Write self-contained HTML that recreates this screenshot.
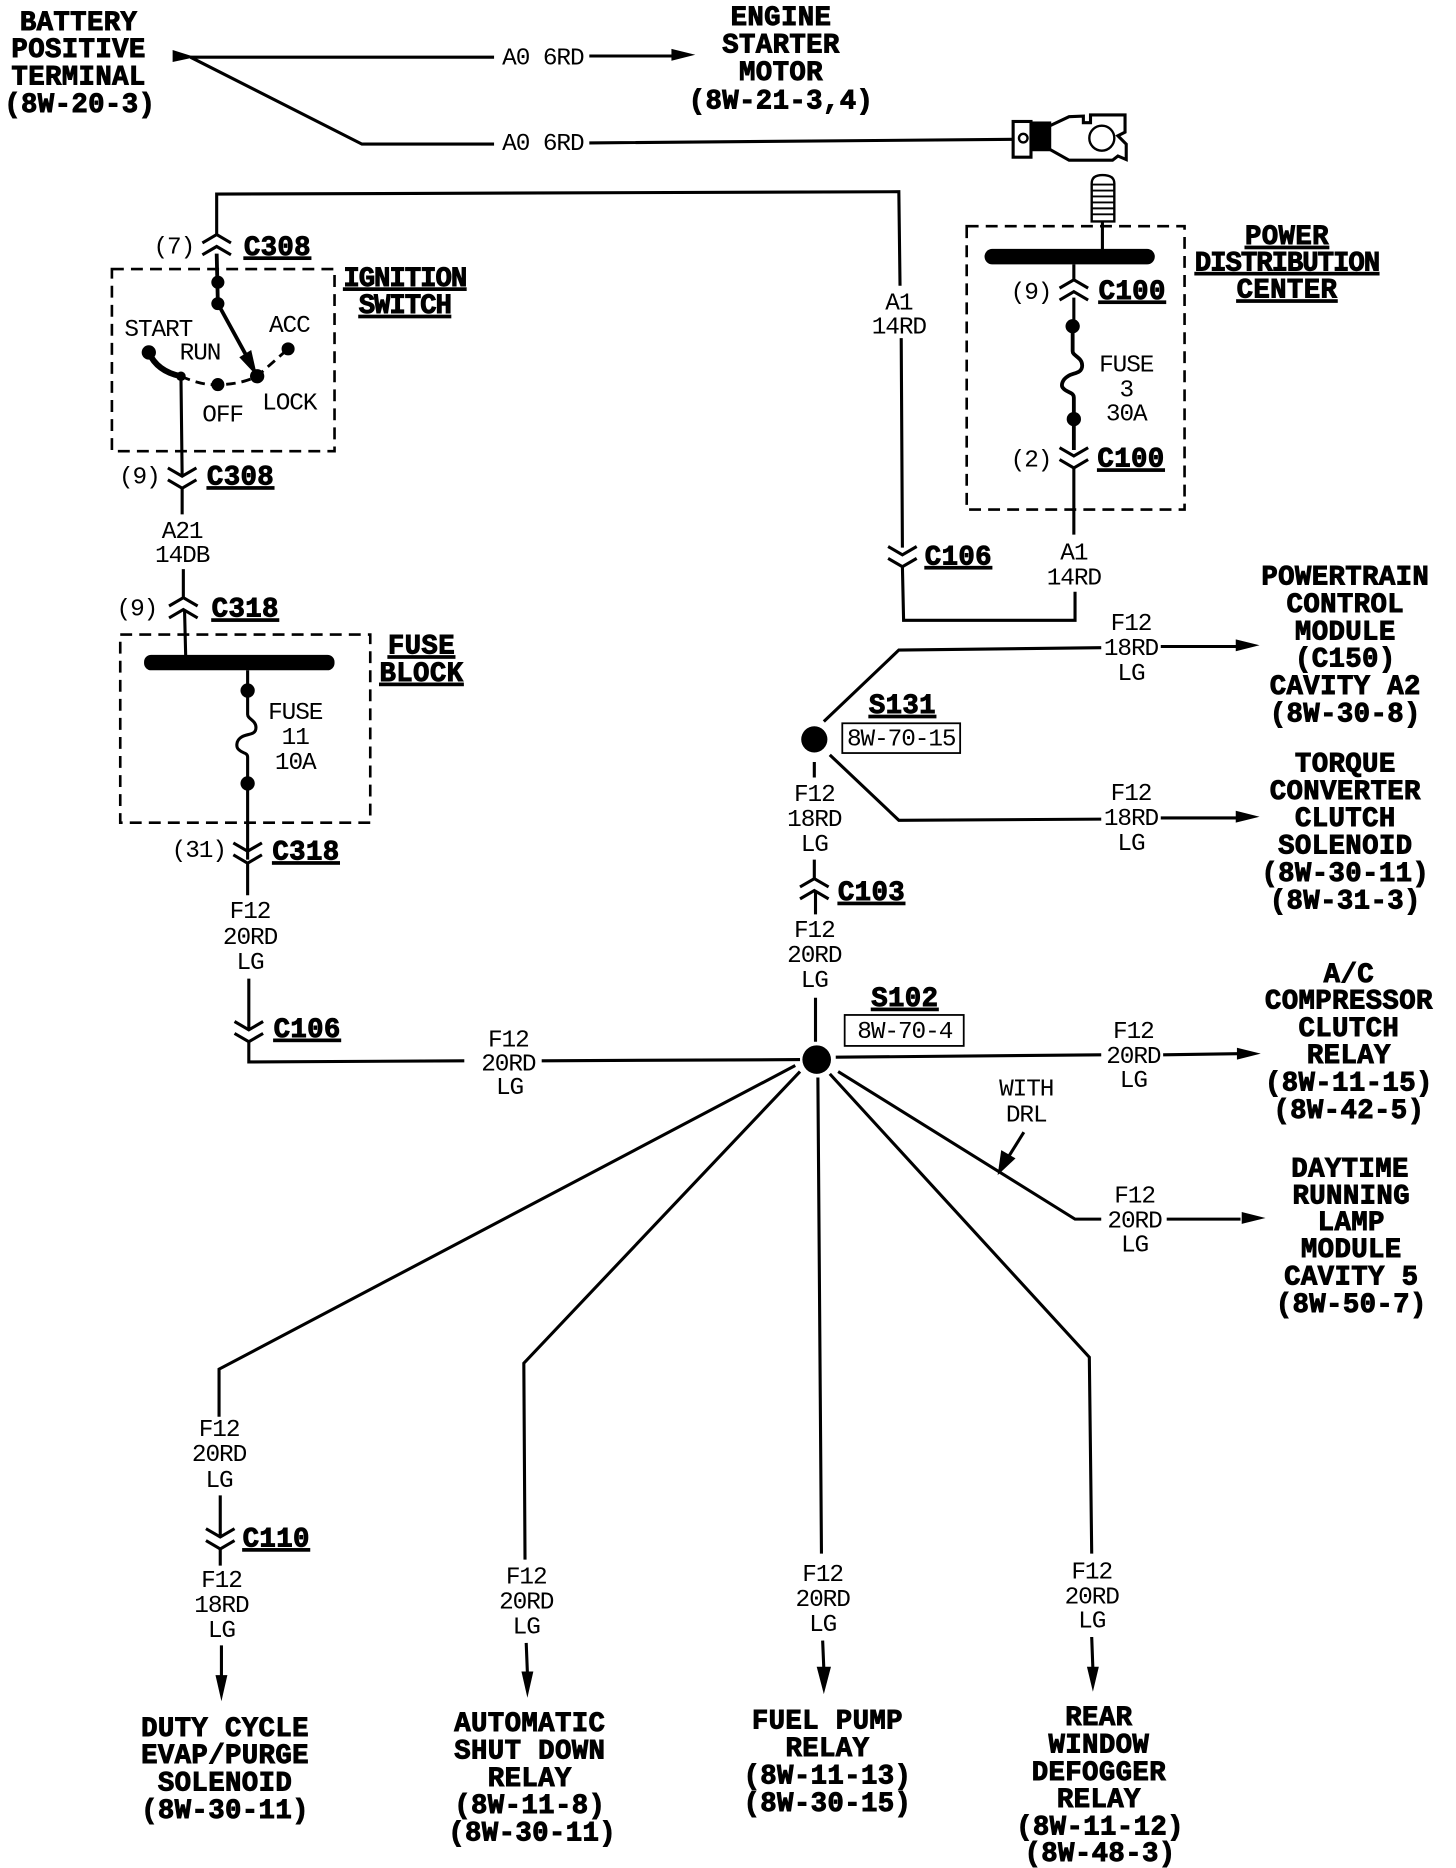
<!DOCTYPE html>
<html><head><meta charset="utf-8"><style>
html,body{margin:0;padding:0;background:#fff}
svg{display:block}
text{fill:#000;text-anchor:middle;font-family:"Liberation Mono",monospace}
.b{font-size:23px;font-weight:bold;stroke:#000;stroke-width:.8px;letter-spacing:.3px}
.n{letter-spacing:-.9px}
.u{text-decoration:underline}
.r{font-size:20.5px;letter-spacing:-.9px}
.w{fill:none;stroke:#000;stroke-width:2.6;stroke-linejoin:miter}
.t{fill:none;stroke:#000;stroke-width:3.2}
.d{fill:none;stroke:#000;stroke-width:2.2;stroke-dasharray:10 6}
</style></head><body>
<svg width="1456" height="1868" viewBox="0 0 1223 1569" xmlns="http://www.w3.org/2000/svg">
<defs>
<g id="dn" fill="none" stroke="#000" stroke-width="2.6"><polyline points="-12,-9 0,-2 12,-9"/><polyline points="-12,1 0,8 12,1"/></g>
<g id="up" fill="none" stroke="#000" stroke-width="2.6"><polyline points="-12,-1 0,-8 12,-1"/><polyline points="-12,9 0,2 12,9"/></g>
<polygon id="ar" points="0,0 -20,-5 -20,5" fill="#000"/>
</defs>

<!-- top wires -->
<polygon points="145,42 145,52 164,48" fill="#000"/>
<path class="w" d="M160,48 L415,48 M495,47 L566,47 M160,48 L304,121 L415,121 M495,120 L852,117"/>
<use href="#ar" x="584" y="46"/>

<!-- terminal -->
<path d="M881,106 L898,98 L910,97.5 L910,103 L916,103 L916,96.5 L945,96.5 L945,111 L939,114 L946,121 L946,134 L939,131 L934.5,134.5 L898,134.5 L881,125 Z" fill="#fff" stroke="#000" stroke-width="2.6"/>
<rect x="851" y="102" width="15" height="30" fill="#fff" stroke="#000" stroke-width="2.6"/>
<rect x="866" y="102" width="17" height="25" fill="#000"/>
<circle cx="859.5" cy="116" r="3.6" fill="#fff" stroke="#000" stroke-width="2"/>
<circle cx="925.5" cy="116" r="10.5" fill="#fff" stroke="#000" stroke-width="2"/>
<!-- stud -->
<path d="M917,186 L917,154 Q917,147 926,147 Q936,147 936,154 L936,186 Z" fill="#fff" stroke="#000" stroke-width="2"/>
<path d="M917,155 H936 M917,160 H936 M917,165 H936 M917,170 H936 M917,175 H936 M917,180 H936" stroke="#000" stroke-width="1.6"/>
<path class="w" d="M926,186 L926,210"/>

<!-- A1 long wire -->
<path class="w" d="M182,197 L182,163 L755,161 L756,240 M757,284 L758,460 M758,476 L759,521 L903,521 L903,497 M902,449 L902,392 M902,274 L902,250 M902,222 L902,235"/>
<use href="#up" x="182" y="205"/>
<path class="t" d="M182,213 L183,255"/>
<use href="#dn" x="758" y="468"/>
<use href="#up" x="902" y="243"/>
<use href="#dn" x="902" y="385"/>

<!-- PDC -->
<rect x="812" y="190" width="183" height="238" class="d"/>
<rect x="827" y="209" width="143" height="13" rx="6.5" fill="#000"/>
<circle cx="901" cy="274" r="6" fill="#000"/>
<circle cx="902" cy="352" r="6" fill="#000"/>
<path class="t" d="M901,274 L901,295 C901,299 909,300 909,307 C909,314 901,313 897,316 C892,319 891,324 893,326 C896,330 902,329 902,334 L902,352 L902,378"/>

<!-- Ignition switch -->
<rect x="94" y="226" width="187" height="153" class="d"/>
<circle cx="183" cy="237" r="5.5" fill="#000"/>
<circle cx="183" cy="255" r="5.5" fill="#000"/>
<circle cx="125" cy="296" r="6" fill="#000"/>
<circle cx="152" cy="316" r="4" fill="#000"/>
<circle cx="183" cy="323" r="5.5" fill="#000"/>
<circle cx="216" cy="316" r="6" fill="#000"/>
<circle cx="242" cy="293" r="5.5" fill="#000"/>
<path d="M125,296 Q132,312 152,316" fill="none" stroke="#000" stroke-width="5"/>
<path d="M152,316 Q170,324 183,323 Q202,323 216,316 L242,293" fill="none" stroke="#000" stroke-width="2.4" stroke-dasharray="8 5"/>
<path class="t" d="M183,255 L212,308"/>
<polygon points="216,316 201,300 211,294" fill="#000"/>
<path class="w" d="M152,316 L153,400 M153,410 L153,432 M154,478 L154,502 M155,512 L156,552"/>
<use href="#dn" x="153" y="402"/>
<use href="#up" x="154" y="510"/>

<!-- Fuse block -->
<rect x="101" y="533" width="210" height="158" class="d"/>
<rect x="121" y="550" width="160" height="13" rx="6" fill="#000"/>
<circle cx="208" cy="580" r="6" fill="#000"/>
<circle cx="208" cy="658" r="6" fill="#000"/>
<path class="w" d="M208,563 L208,600 C208,604 215,605 215,611 C215,618 207,616 203,619 C198,622 198,628 201,630 C204,633 208,632 208,636 L208,722 M208,724 L208,752 M209,822 L209,865 M209,875 L209,892 L390,891 M455,891 L672,890"/>
<use href="#dn" x="208" y="717"/>
<use href="#dn" x="209" y="867"/>

<!-- S131 -->
<circle cx="684" cy="621" r="11" fill="#000"/>
<path class="w" d="M692,606 L755,546 L925,544 M975,543 L1040,543 M697,634 L755,689 L925,688 M975,687 L1040,687 M684,640 L684,653 M684,722 L684,738 M685,749 L685,768 M685,838 L685,875"/>
<use href="#ar" x="1058" y="542"/>
<use href="#ar" x="1058" y="686"/>
<use href="#up" x="684" y="746"/>
<rect x="707.500" y="607.500" width="99" height="25" fill="none" stroke="#000" stroke-width="1.5"/>

<!-- S102 -->
<circle cx="686" cy="890" r="12" fill="#000"/>
<rect x="709.500" y="852.500" width="100" height="26" fill="none" stroke="#000" stroke-width="1.5"/>
<path class="w" d="M702,888 L925,886 M977,886 L1040,885 M704,900 L903,1024 L925,1024 M980,1024 L1042,1024 M697,902 L915,1140 L917,1305 M917,1375 L918,1402 M687,905 L690,1305 M691,1378 L692,1402 M672,900 L440,1145 L441,1310 M442,1380 L443,1405 M668,895 L184,1150 L184,1190 M185,1256 L185,1291 M185,1301 L185,1315 M186,1382 L186,1408"/>
<use href="#ar" x="1059" y="885"/>
<use href="#ar" x="1063" y="1023"/>
<polygon points="918,1421 913,1400 923,1400" fill="#000"/>
<polygon points="692,1423 686,1400 698,1400" fill="#000"/>
<polygon points="443,1426 438,1404 448,1404" fill="#000"/>
<polygon points="186,1429 181,1407 191,1407" fill="#000"/>
<use href="#dn" x="185" y="1293"/>
<path class="w" d="M860,951 L845,975"/>
<polygon points="838,987 841,966 853,973" fill="#000"/>

<!-- Bold labels -->
<g class="b">
<text x="66" y="25">BATTERY</text><text x="66" y="48">POSITIVE</text><text x="66" y="71">TERMINAL</text><text x="67" y="94">(8W-20-3)</text>
<text x="656" y="21">ENGINE</text><text x="656" y="44">STARTER</text><text x="656" y="67">MOTOR</text><text x="656" y="91">(8W-21-3,4)</text>
<text x="1130" y="491">POWERTRAIN</text><text x="1130" y="514">CONTROL</text><text x="1130" y="537">MODULE</text><text x="1130" y="560">(C150)</text><text x="1130" y="583">CAVITY A2</text><text x="1130" y="606">(8W-30-8)</text>
<text x="1130" y="648">TORQUE</text><text x="1130" y="671">CONVERTER</text><text x="1130" y="694">CLUTCH</text><text x="1130" y="717">SOLENOID</text><text x="1130" y="740">(8W-30-11)</text><text x="1130" y="763">(8W-31-3)</text>
<text x="1133" y="825">A/C</text><text x="1133" y="847">COMPRESSOR</text><text x="1133" y="870">CLUTCH</text><text x="1133" y="893">RELAY</text><text x="1133" y="916">(8W-11-15)</text><text x="1133" y="939">(8W-42-5)</text>
<text x="1134" y="988">DAYTIME</text><text x="1135" y="1011">RUNNING</text><text x="1135" y="1033">LAMP</text><text x="1135" y="1056">MODULE</text><text x="1135" y="1079">CAVITY 5</text><text x="1135" y="1102">(8W-50-7)</text>
<text x="189" y="1458">DUTY CYCLE</text><text x="189" y="1481">EVAP/PURGE</text><text x="189" y="1504">SOLENOID</text><text x="189" y="1527">(8W-30-11)</text>
<text x="445" y="1454">AUTOMATIC</text><text x="445" y="1477">SHUT DOWN</text><text x="445" y="1500">RELAY</text><text x="445" y="1523">(8W-11-8)</text><text x="447" y="1546">(8W-30-11)</text>
<text x="695" y="1452">FUEL PUMP</text><text x="695" y="1475">RELAY</text><text x="695" y="1498">(8W-11-13)</text><text x="695" y="1521">(8W-30-15)</text>
<text x="923" y="1449">REAR</text><text x="923" y="1472">WINDOW</text><text x="923" y="1495">DEFOGGER</text><text x="923" y="1518">RELAY</text><text x="924" y="1541">(8W-11-12)</text><text x="924" y="1563">(8W-48-3)</text>
</g>
<g class="b u">
<text class="n" x="340" y="240">IGNITION</text><text class="n" x="340" y="263">SWITCH</text>
<text x="233" y="214">C308</text><text x="202" y="407">C308</text><text x="206" y="518">C318</text><text x="257" y="722">C318</text><text x="258" y="871">C106</text><text x="805" y="474">C106</text>
<text x="951" y="251">C100</text><text x="950" y="392">C100</text><text x="732" y="756">C103</text><text x="232" y="1299">C110</text><text x="758" y="599">S131</text><text x="760" y="845">S102</text>
<text x="1081" y="205">POWER</text><text class="n" x="1081" y="227">DISTRIBUTION</text><text x="1081" y="250">CENTER</text>
<text x="354" y="549">FUSE</text><text x="354" y="572">BLOCK</text>
</g>

<!-- Regular labels -->
<g class="r">
<text x="456" y="54">A0 6RD</text><text x="456" y="126">A0 6RD</text>
<text x="146" y="213">(7)</text><text x="117" y="406">(9)</text><text x="115" y="517">(9)</text><text x="167" y="720">(31)</text><text x="866" y="251">(9)</text><text x="866" y="392">(2)</text>
<text x="133" y="282">START</text><text x="168" y="302">RUN</text><text x="243" y="279">ACC</text><text x="187" y="354">OFF</text><text x="243" y="344">LOCK</text>
<text x="755" y="260">A1</text><text x="755" y="280">14RD</text>
<text x="902" y="470">A1</text><text x="902" y="491">14RD</text>
<text x="153" y="452">A21</text><text x="153" y="472">14DB</text>
<text x="946" y="312">FUSE</text><text x="946" y="333">3</text><text x="946" y="353">30A</text>
<text x="248" y="604">FUSE</text><text x="248" y="625">11</text><text x="248" y="646">10A</text>
<text x="210" y="771">F12</text><text x="210" y="793">20RD</text><text x="210" y="814">LG</text>
<text x="427" y="879">F12</text><text x="427" y="899">20RD</text><text x="428" y="919">LG</text>
<text x="950" y="529">F12</text><text x="950" y="550">18RD</text><text x="950" y="571">LG</text>
<text x="950" y="672">F12</text><text x="950" y="693">18RD</text><text x="950" y="714">LG</text>
<text x="684" y="673">F12</text><text x="684" y="694">18RD</text><text x="684" y="715">LG</text>
<text x="684" y="787">F12</text><text x="684" y="808">20RD</text><text x="684" y="829">LG</text>
<text x="952" y="872">F12</text><text x="952" y="893">20RD</text><text x="952" y="913">LG</text>
<text x="953" y="1010">F12</text><text x="953" y="1031">20RD</text><text x="953" y="1051">LG</text>
<text x="862" y="920">WITH</text><text x="862" y="942">DRL</text>
<text x="184" y="1206">F12</text><text x="184" y="1227">20RD</text><text x="184" y="1249">LG</text>
<text x="186" y="1333">F12</text><text x="186" y="1354">18RD</text><text x="186" y="1375">LG</text>
<text x="442" y="1330">F12</text><text x="442" y="1351">20RD</text><text x="442" y="1372">LG</text>
<text x="691" y="1328">F12</text><text x="691" y="1349">20RD</text><text x="691" y="1370">LG</text>
<text x="917" y="1326">F12</text><text x="917" y="1347">20RD</text><text x="917" y="1367">LG</text>
<text x="757" y="626">8W-70-15</text><text x="760" y="872">8W-70-4</text>
</g>
</svg>
</body></html>
